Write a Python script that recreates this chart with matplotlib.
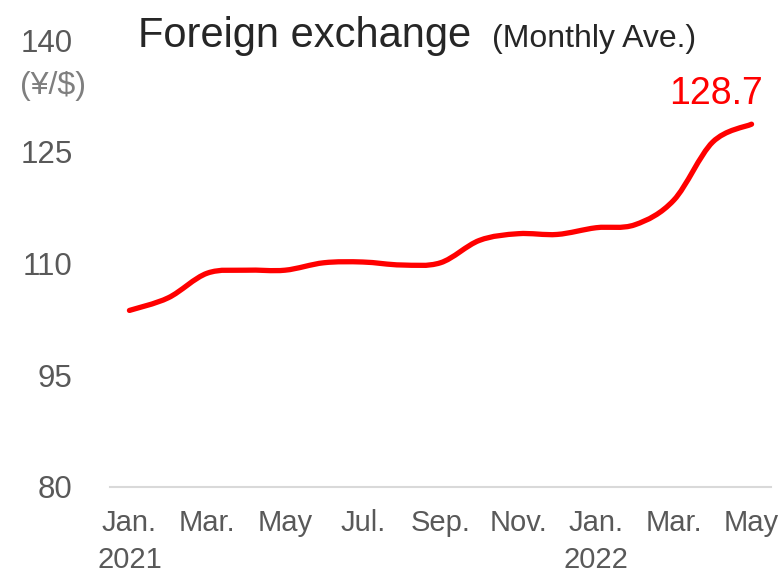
import numpy as np
import matplotlib.pyplot as plt
from matplotlib.path import Path
from matplotlib.patches import PathPatch

plt.rcParams['font.family'] = ['Liberation Sans', 'DejaVu Sans']

# Monthly average USD/JPY, Jan 2021 - May 2022
months = ['Jan.\n2021', 'Feb.', 'Mar.', 'Apr.', 'May', 'Jun.', 'Jul.', 'Aug.', 'Sep.',
          'Oct.', 'Nov.', 'Dec.', 'Jan.\n2022', 'Feb.', 'Mar.', 'Apr.', 'May']
rates = [103.7, 105.4, 108.7, 109.1, 109.1, 110.1, 110.2, 109.8, 110.1,
         113.1, 114.0, 113.9, 114.8, 115.2, 118.5, 126.3, 128.7]
yticks = [80, 95, 110, 125, 140]

x = np.arange(len(rates))
y = np.array(rates)

fig = plt.figure(figsize=(7.81, 5.77), dpi=100)
ax = fig.add_axes([110 / 781, 1 - 487 / 577, 661 / 781, 447 / 577])

# smoothed line (Catmull-Rom -> cubic bezier)
pts = np.column_stack([x, y])
verts = [pts[0]]
codes = [Path.MOVETO]
for i in range(len(pts) - 1):
    p0 = pts[i - 1] if i > 0 else pts[i]
    p1 = pts[i]
    p2 = pts[i + 1]
    p3 = pts[i + 2] if i + 2 < len(pts) else pts[i + 1]
    c1 = p1 + (p2 - p0) / 6
    c2 = p2 - (p3 - p1) / 6
    verts += [c1, c2, p2]
    codes += [Path.CURVE4] * 3
ax.add_patch(PathPatch(Path(verts, codes), facecolor='none', edgecolor='#ff0000',
                       lw=3.8, capstyle='round', joinstyle='round'))

ax.set_xlim(-0.5, 16.5)
ax.set_ylim(80, 140)
ax.set_yticks(yticks)
ax.set_yticklabels([str(t) for t in yticks])
ax.set_xticks(x[::2])
ax.set_xticklabels(months[::2])
ax.tick_params(axis='y', length=0, pad=27, labelsize=22.5, labelcolor='#595959')
ax.tick_params(axis='x', length=0, pad=16, labelsize=21, labelcolor='#595959')
for lbl in ax.get_xticklabels():
    lbl.set_linespacing(1.4)
for s in ['top', 'right', 'left']:
    ax.spines[s].set_visible(False)
ax.spines['bottom'].set_color('#d9d9d9')
ax.spines['bottom'].set_linewidth(1.5)

ax.annotate(f'{rates[-1]}', xy=(x[-1], y[-1]), xytext=(8, 9), textcoords='offset points',
            ha='right', va='bottom', fontsize=27, color='#ff0000')

fig.text(138 / 781, 1 - 47 / 577, 'Foreign exchange', fontsize=30, color='#262626',
         va='baseline', ha='left')
fig.text(492 / 781, 1 - 47 / 577, '(Monthly Ave.)', fontsize=23, color='#262626',
         va='baseline', ha='left')
fig.text(53 / 781, 1 - 86 / 577, '(¥/$)', fontsize=23, color='#7f7f7f',
         va='center', ha='center')

fig.savefig('out.png', dpi=100)
